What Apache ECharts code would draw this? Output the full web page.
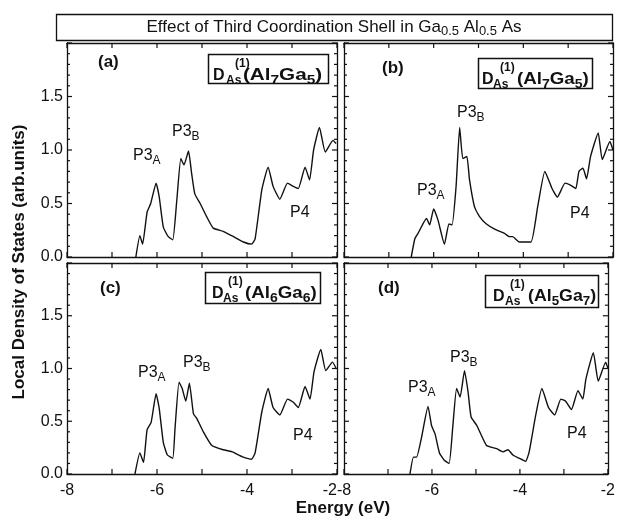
<!DOCTYPE html>
<html>
<head>
<meta charset="utf-8">
<script src="https://cdn.jsdelivr.net/npm/echarts@6/dist/echarts.min.js"></script>
<style>
  html, body { margin: 0; padding: 0; background: #fff; }
  #chart { width: 618px; height: 521px; }
</style>
</head>
<body>
<div id="chart"></div>
<script>
// energies (eV) and local DOS
const eA = [-6.47, -6.38, -6.32, -6.22, -6.14, -6.02, -5.95, -5.86, -5.75, -5.65, -5.56, -5.47, -5.40, -5.30, -5.23, -5.16, -5.04, -4.90, -4.75, -4.53, -4.30, -4.08, -3.90, -3.82, -3.67, -3.53, -3.42, -3.27, -3.10, -2.97, -2.86, -2.71, -2.61, -2.52, -2.39, -2.26, -2.09, -2.02];
const dA = [0, 0.20, 0.12, 0.42, 0.50, 0.69, 0.56, 0.28, 0.19, 0.16, 0.53, 0.92, 0.86, 0.99, 0.78, 0.59, 0.50, 0.38, 0.27, 0.24, 0.19, 0.14, 0.12, 0.17, 0.63, 0.84, 0.66, 0.54, 0.69, 0.66, 0.64, 0.84, 0.72, 1.00, 1.21, 0.98, 1.09, 1.06];

const eB = [-6.50, -6.42, -6.35, -6.16, -6.09, -6.00, -5.90, -5.76, -5.66, -5.59, -5.50, -5.42, -5.35, -5.26, -5.20, -5.09, -4.98, -4.83, -4.64, -4.42, -4.31, -4.24, -4.09, -3.83, -3.68, -3.52, -3.36, -3.24, -3.07, -2.94, -2.83, -2.76, -2.67, -2.59, -2.50, -2.33, -2.24, -2.07, -2.00];
const dB = [0, 0.17, 0.22, 0.36, 0.30, 0.45, 0.34, 0.12, 0.31, 0.30, 0.66, 1.21, 0.92, 0.94, 0.72, 0.47, 0.38, 0.31, 0.26, 0.22, 0.19, 0.19, 0.14, 0.14, 0.47, 0.80, 0.64, 0.56, 0.69, 0.67, 0.64, 0.80, 0.83, 0.73, 0.94, 1.16, 0.91, 1.08, 1.00];

const eC = [-6.49, -6.38, -6.30, -6.22, -6.13, -6.02, -5.95, -5.86, -5.77, -5.65, -5.60, -5.51, -5.44, -5.36, -5.28, -5.19, -5.12, -4.97, -4.78, -4.53, -4.32, -4.23, -4.08, -3.90, -3.82, -3.67, -3.53, -3.42, -3.27, -3.10, -2.97, -2.86, -2.71, -2.60, -2.51, -2.36, -2.25, -2.10, -2.02];
const dC = [0, 0.20, 0.11, 0.42, 0.49, 0.76, 0.62, 0.30, 0.18, 0.15, 0.43, 0.87, 0.81, 0.69, 0.86, 0.57, 0.53, 0.40, 0.27, 0.23, 0.21, 0.19, 0.16, 0.14, 0.20, 0.59, 0.81, 0.63, 0.56, 0.71, 0.68, 0.63, 0.83, 0.71, 0.97, 1.18, 0.98, 1.06, 1.00];

const eD = [-6.50, -6.42, -6.35, -6.24, -6.09, -6.01, -5.93, -5.83, -5.72, -5.61, -5.53, -5.44, -5.36, -5.26, -5.18, -5.11, -4.98, -4.76, -4.53, -4.38, -4.27, -4.16, -4.02, -3.87, -3.79, -3.64, -3.50, -3.35, -3.21, -3.07, -2.96, -2.83, -2.68, -2.57, -2.50, -2.33, -2.22, -2.05, -2.00];
const dD = [0, 0.16, 0.16, 0.34, 0.64, 0.46, 0.38, 0.20, 0.13, 0.10, 0.43, 0.81, 0.73, 0.98, 0.78, 0.54, 0.46, 0.27, 0.24, 0.21, 0.23, 0.18, 0.15, 0.12, 0.21, 0.56, 0.81, 0.63, 0.56, 0.71, 0.69, 0.61, 0.79, 0.71, 0.90, 1.15, 0.88, 1.06, 1.00];

const panelTags = ['(a)', '(b)', '(c)', '(d)'];
const alCount = [7, 7, 6, 5];
const gaCount = [5, 5, 6, 7];
const yTicks = ['0.0', '0.5', '1.0', '1.5'];
const xTicks = [-8, -6, -4, -2];
// tick mark positions on the frames
const xTickVals = [-8, -7, -6, -5, -4, -3, -2];
const yTickVals = [0, 0.1, 0.2, 0.3, 0.4, 0.5, 0.6, 0.7, 0.8, 0.9, 1.0, 1.1, 1.2, 1.3, 1.4, 1.5, 1.6, 1.7, 1.8, 1.9, 2.0];

const FONT = '"Liberation Sans", Arial, Helvetica, sans-serif';
const INK = '#111';

let chart = echarts.init(document.getElementById('chart'), null, {renderer: 'canvas'});

let grids = [
  {left: 67, top: 43, width: 270, height: 214},
  {left: 344, top: 43, width: 269, height: 214},
  {left: 67, top: 263, width: 270, height: 211},
  {left: 344, top: 263, width: 269, height: 211}
];
let curves = [[eA, dA], [eB, dB], [eC, dC], [eD, dD]];

function tickLine(x1, y1, x2, y2) {
  return {type: 'line', shape: {x1, y1, x2, y2}, style: {stroke: INK, lineWidth: 1.2}};
}

let xAxes = [], yAxes = [], series = [];
grids.forEach((g, i) => {
  let line = {show: true, onZero: false, lineStyle: {color: INK, width: 1.3}};
  let xBase = () => ({
    gridIndex: i, type: 'value', min: -8, max: -2, interval: 1,
    axisLine: line, splitLine: {show: false}, axisTick: {show: false}
  });
  xAxes.push(Object.assign(xBase(), {
    position: 'bottom',
    axisLabel: {
      show: i >= 2, color: INK, fontSize: 16, fontFamily: FONT, margin: 9,
      alignMaxLabel: i === 2 ? 'right' : 'center',
      formatter: v => xTicks.indexOf(v) >= 0 ? String(v) : ''
    }
  }));
  xAxes.push(Object.assign(xBase(), {position: 'top', axisLabel: {show: false}}));

  let yBase = () => ({
    gridIndex: i, type: 'value', min: 0, max: 2, interval: 0.5,
    axisLine: line, splitLine: {show: false}, axisTick: {show: false},
    minorTick: {show: false}, minorSplitLine: {show: false}
  });
  yAxes.push(Object.assign(yBase(), {
    position: 'left',
    axisLabel: {
      show: i % 2 === 0, color: INK, fontSize: 16, fontFamily: FONT, margin: 4,
      formatter: v => yTicks[Math.round(v * 2)] || ''
    }
  }));
  yAxes.push(Object.assign(yBase(), {position: 'right', axisLabel: {show: false}}));

  let [ex, dy] = curves[i];
  series.push({
    type: 'line', xAxisIndex: 2 * i, yAxisIndex: 2 * i,
    data: ex.map((x, k) => [x, dy[k]]),
    showSymbol: false, smooth: 0.15, clip: true,
    lineStyle: {color: INK, width: 1.4},
    animation: false
  });

  // inward ticks on bottom and top frame
  series.push({
    type: 'custom', xAxisIndex: 2 * i, yAxisIndex: 2 * i, clip: false, silent: true,
    data: xTickVals.map(v => [v, 0]),
    renderItem: (params, api) => {
      let v = api.value(0);
      let b = api.coord([v, 0]), t = api.coord([v, 2]);
      return {type: 'group', children: [
        tickLine(b[0], b[1], b[0], b[1] - 5),
        tickLine(t[0], t[1], t[0], t[1] + 5)
      ]};
    }
  });
  // inward ticks on left and right frame (long at 0.5 steps)
  series.push({
    type: 'custom', xAxisIndex: 2 * i, yAxisIndex: 2 * i, clip: false, silent: true,
    data: yTickVals.map(v => [-8, v]),
    renderItem: (params, api) => {
      let v = api.value(1);
      let len = Math.abs(v * 2 - Math.round(v * 2)) < 1e-6 ? 5 : 3;
      let l = api.coord([-8, v]), r = api.coord([-2, v]);
      return {type: 'group', children: [
        tickLine(l[0], l[1], l[0] + len, l[1]),
        tickLine(r[0], r[1], r[0] - len, r[1])
      ]};
    }
  });
});

// text helpers
function txt(x, y, text, extra) {
  return {
    type: 'text', z: 10,
    style: Object.assign({x, y, text, fill: INK, font: '16px ' + FONT, align: 'left', verticalAlign: 'middle'}, extra || {})
  };
}

let graphics = [];
// title box
graphics.push({type: 'rect', shape: {x: 56.5, y: 14.5, width: 556, height: 26},
  style: {fill: 'none', stroke: INK, lineWidth: 1.3}});
graphics.push(txt(334, 27, '{n|Effect of Third Coordination Shell in Ga}{s|0.5}{n| Al}{s|0.5}{n| As}', {
  align: 'center',
  rich: {
    n: {fontSize: 17, fontFamily: FONT, lineHeight: 22, fill: INK},
    s: {fontSize: 13, fontFamily: FONT, lineHeight: 12, verticalAlign: 'bottom', fill: INK}
  }
}));

// D_As^(1) label boxes; off = left offsets of D, As, (1), (AlGa) inside the box
let boxes = [
  {x: 208, y: 54, w: 120, h: 29, off: [5, 18, 27, 35], sx: 1.29},
  {x: 478, y: 58, w: 114, h: 30, off: [4, 15, 22, 39], sx: 1.17},
  {x: 205, y: 272, w: 115, h: 31, off: [7, 18, 23, 40], sx: 1.17},
  {x: 485, y: 275, w: 113, h: 32, off: [8, 20, 25, 43], sx: 1.11}
];
let boldRich = {
  b: {fontSize: 16, fontWeight: 'bold', fontFamily: FONT, lineHeight: 22, fill: INK},
  bs: {fontSize: 12, fontWeight: 'bold', fontFamily: FONT, lineHeight: 12, verticalAlign: 'bottom', fill: INK}
};
boxes.forEach((b, i) => {
  graphics.push({type: 'rect', shape: {x: b.x + 0.5, y: b.y + 0.5, width: b.w, height: b.h},
    style: {fill: '#fff', stroke: INK, lineWidth: 1.5}, z: 9});
  graphics.push(txt(b.x + b.off[0], b.y + 22, 'D', {font: 'bold 16px ' + FONT}));
  graphics.push(txt(b.x + b.off[1], b.y + 27, 'As', {font: 'bold 12px ' + FONT}));
  graphics.push(txt(b.x + b.off[2], b.y + 10, '(1)', {font: 'bold 12px ' + FONT}));
  graphics.push({
    type: 'text', z: 10, x: b.x + b.off[3], y: b.y + 22, scaleX: b.sx,
    style: {x: 0, y: 0, text: '{b|(Al}{bs|' + alCount[i] + '}{b|Ga}{bs|' + gaCount[i] + '}{b|)}',
      rich: boldRich, align: 'left', verticalAlign: 'middle'}
  });
});

// panel tags
let tagPos = [[98, 62], [382, 68], [100, 288], [378, 288]];
tagPos.forEach((p, i) => graphics.push(txt(p[0], p[1], panelTags[i], {font: 'bold 17px ' + FONT})));

// peak labels
let peakRich = {
  p: {fontSize: 16, fontFamily: FONT, lineHeight: 22, fill: INK},
  ps: {fontSize: 12, fontFamily: FONT, lineHeight: 12, verticalAlign: 'bottom', fill: INK}
};
let peaks = [
  [[133, 156, 'A'], [172, 132, 'B'], [290, 213]],
  [[417, 191, 'A'], [457, 113, 'B'], [570, 214]],
  [[138, 373, 'A'], [183, 363, 'B'], [293, 436]],
  [[408, 388, 'A'], [450, 358, 'B'], [567, 434]]
];
peaks.forEach(set => {
  set.forEach(p => {
    if (p[2]) graphics.push(txt(p[0], p[1], '{p|P3}{ps|' + p[2] + '}', {rich: peakRich}));
    else graphics.push(txt(p[0], p[1], 'P4', {font: '16px ' + FONT}));
  });
});

// axis titles
graphics.push({
  type: 'text', z: 10, x: 19, y: 262, rotation: Math.PI / 2,
  style: {x: 0, y: 0, text: 'Local Density of States (arb.units)', fill: INK,
    font: 'bold 17px ' + FONT, align: 'center', verticalAlign: 'middle'}
});
graphics.push(txt(343, 508, 'Energy (eV)', {font: 'bold 17px ' + FONT, align: 'center'}));

chart.setOption({
  animation: false,
  backgroundColor: '#fff',
  grid: grids,
  xAxis: xAxes,
  yAxis: yAxes,
  series: series,
  graphic: graphics
});
</script>
</body>
</html>
